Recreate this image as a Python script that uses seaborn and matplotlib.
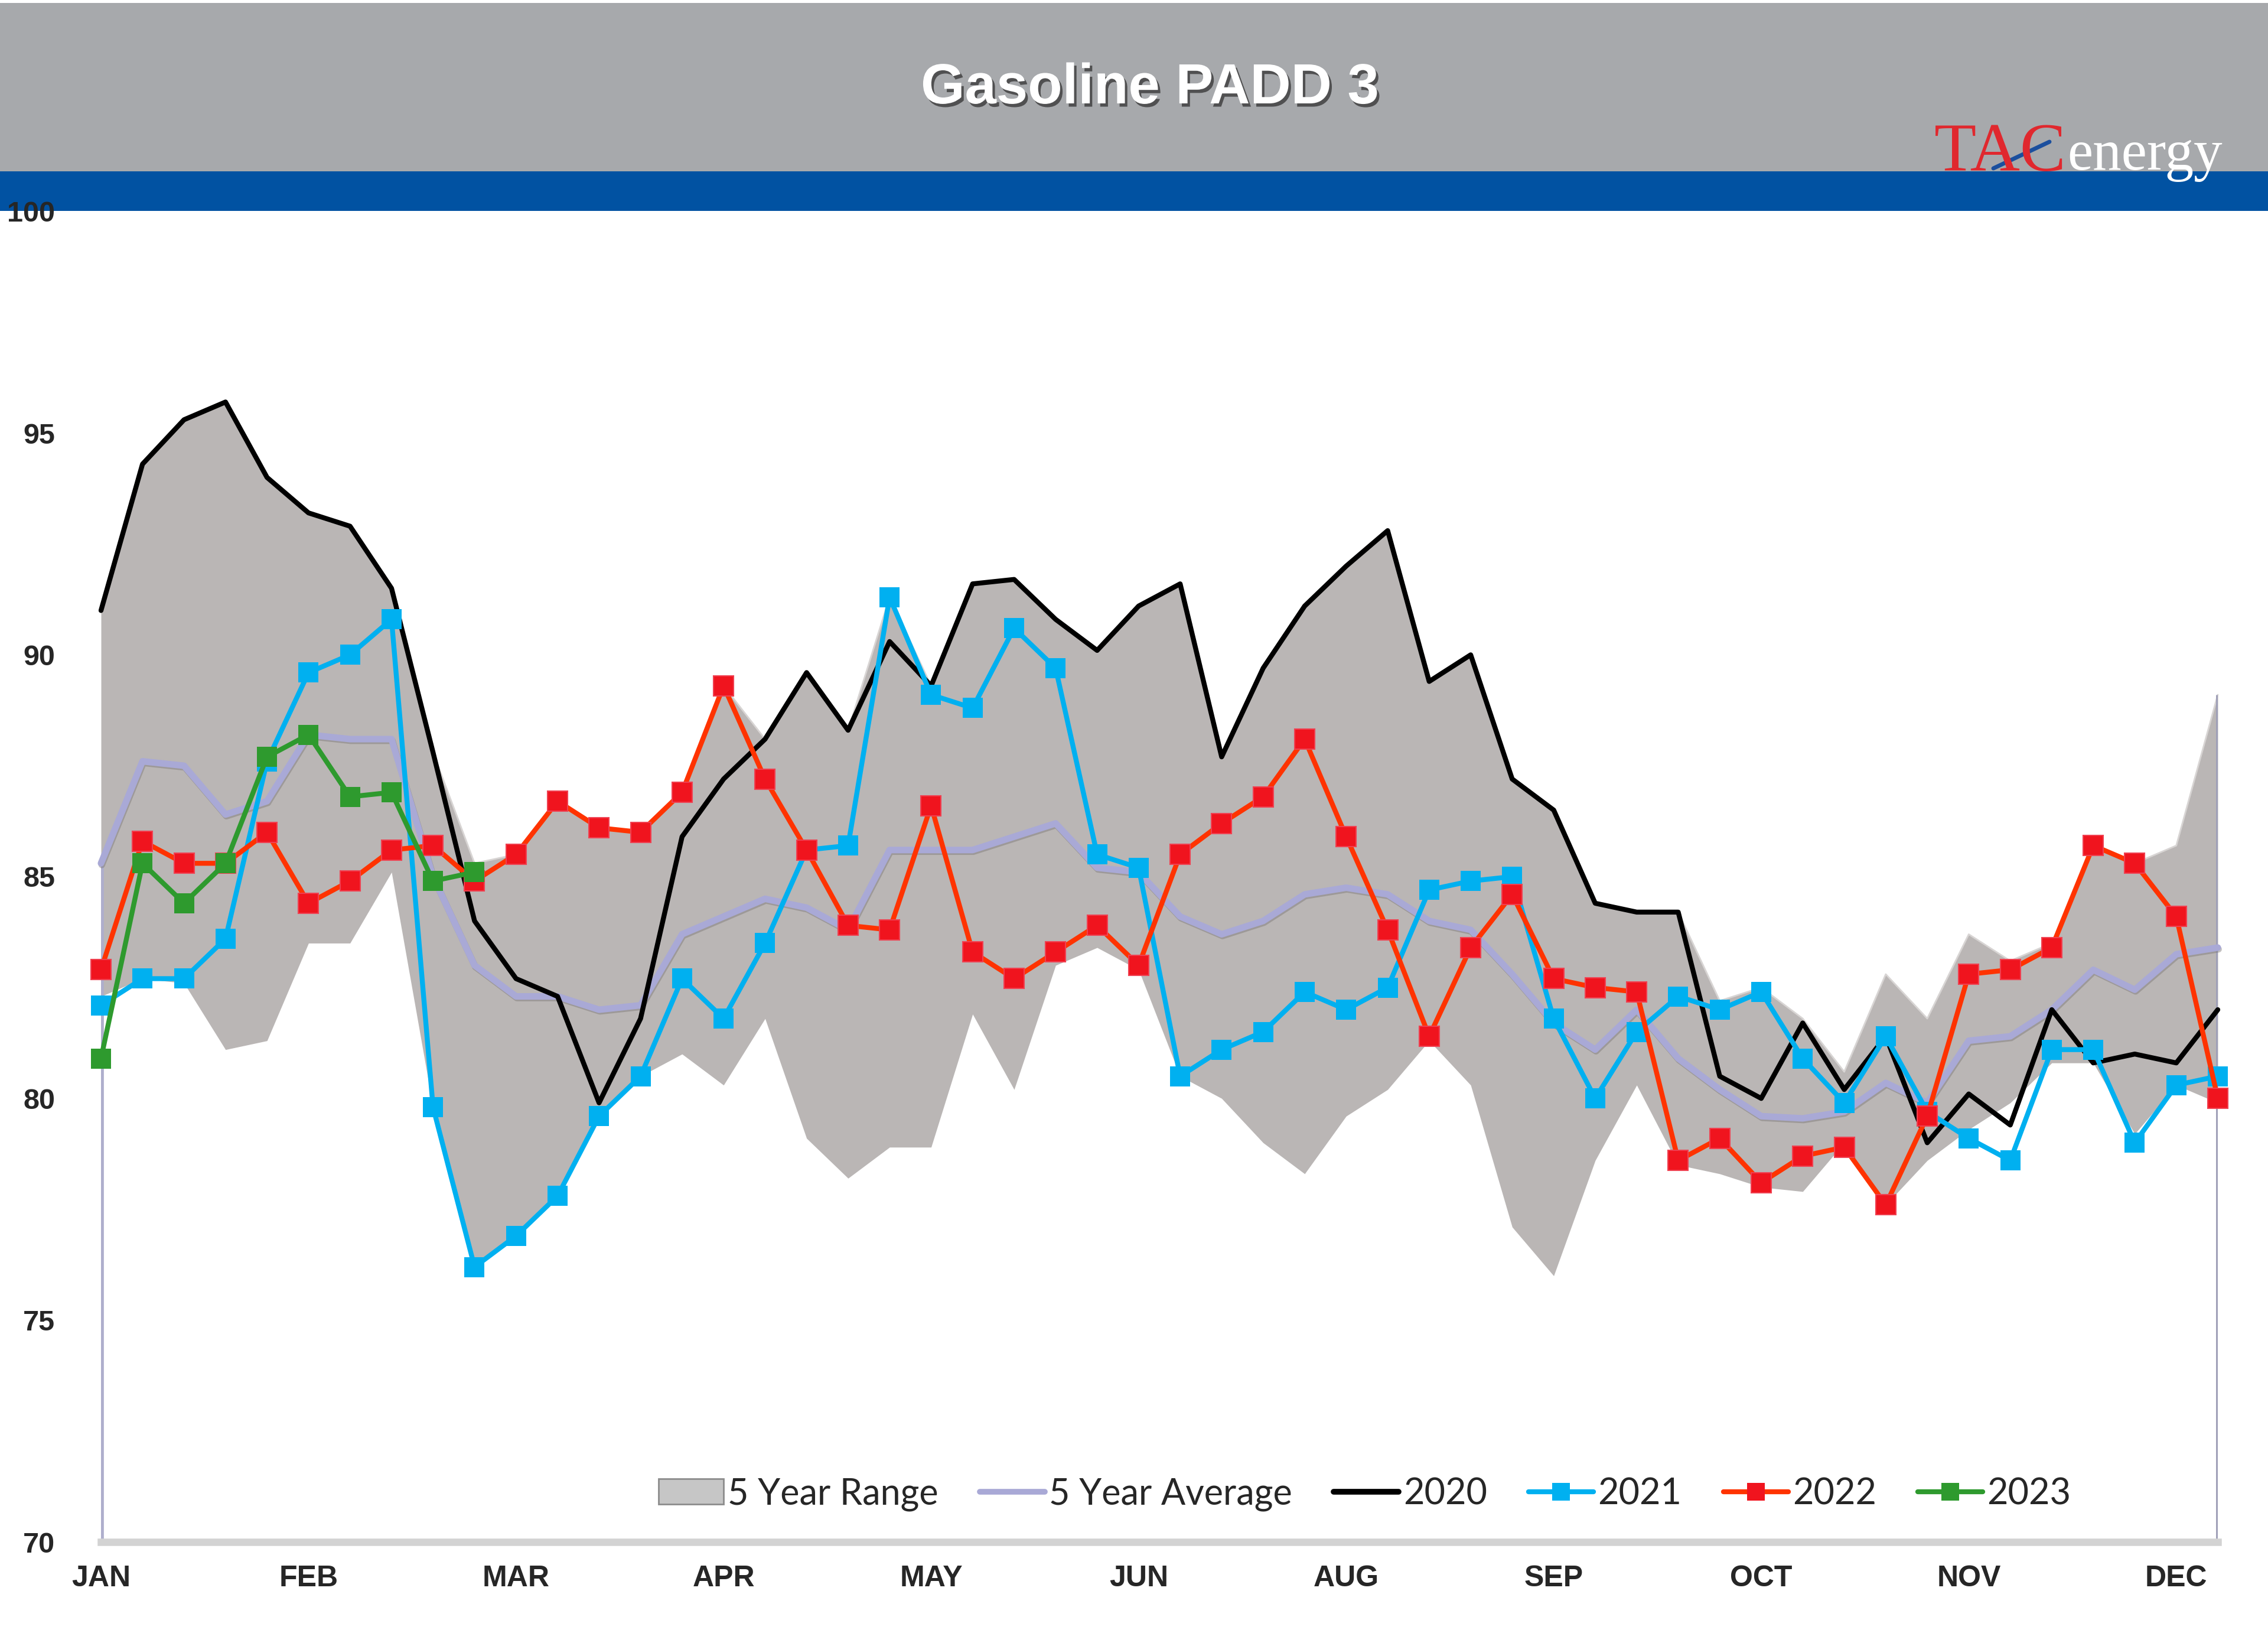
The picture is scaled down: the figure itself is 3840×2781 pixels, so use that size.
import numpy as np
import pandas as pd
import matplotlib
matplotlib.use("Agg")
import matplotlib.pyplot as plt
import seaborn as sns
from matplotlib.patches import Rectangle, Patch
from matplotlib.lines import Line2D
import matplotlib.patheffects as pe

# ---------------- data ----------------
month_labels = ['JAN', 'FEB', 'MAR', 'APR', 'MAY', 'JUN', 'AUG', 'SEP', 'OCT', 'NOV', 'DEC']
month_ticks = [0, 5, 10, 15, 20, 25, 30, 35, 40, 45, 50]
y_ticks = [70, 75, 80, 85, 90, 95, 100]

range_high = [91.0, 94.3, 95.3, 95.7, 94.0, 93.2, 92.9, 91.5, 87.8, 85.3,
              85.5, 86.7, 86.1, 86.0, 86.9, 89.3, 88.1, 89.6, 88.3, 91.3,
              89.3, 91.6, 91.7, 90.8, 90.1, 91.1, 91.6, 87.7, 89.7, 91.1,
              92.0, 92.8, 89.4, 90.0, 87.2, 86.5, 84.4, 84.2, 84.2, 82.2,
              82.5, 81.8, 80.6, 82.8, 81.8, 83.7, 83.1, 83.5, 85.7, 85.3,
              85.7, 89.1]
range_low = [82.3, 82.7, 82.6, 81.1, 81.3, 83.5, 83.5, 85.1, 79.8, 76.2,
             76.9, 77.8, 79.6, 80.5, 81.0, 80.3, 81.8, 79.1, 78.2, 78.9,
             78.9, 81.9, 80.2, 83.0, 83.4, 82.9, 80.5, 80.0, 79.0, 78.3,
             79.6, 80.2, 81.3, 80.3, 77.1, 76.0, 78.6, 80.3, 78.5, 78.3,
             78.0, 77.9, 79.0, 77.6, 78.6, 79.3, 79.9, 80.8, 80.8, 79.2,
             80.3, 79.9]
avg5 = [85.3, 87.6, 87.5, 86.4, 86.7, 88.2, 88.1, 88.1, 85.0, 83.0,
        82.3, 82.3, 82.0, 82.1, 83.7, 84.1, 84.5, 84.3, 83.8, 85.6,
        85.6, 85.6, 85.9, 86.2, 85.2, 85.1, 84.1, 83.7, 84.0, 84.6,
        84.75, 84.6, 84.0, 83.8, 82.8, 81.7, 81.1, 82.0, 80.9, 80.2,
        79.6, 79.55, 79.7, 80.35, 79.9, 81.3, 81.4, 82.0, 82.9, 82.45,
        83.25, 83.4]
y2020 = [91.0, 94.3, 95.3, 95.7, 94.0, 93.2, 92.9, 91.5, 87.8, 84.0,
         82.7, 82.3, 79.9, 81.8, 85.9, 87.2, 88.1, 89.6, 88.3, 90.3,
         89.3, 91.6, 91.7, 90.8, 90.1, 91.1, 91.6, 87.7, 89.7, 91.1,
         92.0, 92.8, 89.4, 90.0, 87.2, 86.5, 84.4, 84.2, 84.2, 80.5,
         80.0, 81.7, 80.2, 81.4, 79.0, 80.1, 79.4, 82.0, 80.8, 81.0,
         80.8, 82.0]
y2021 = [82.1, 82.7, 82.7, 83.6, 87.6, 89.6, 90.0, 90.8, 79.8, 76.2,
         76.9, 77.8, 79.6, 80.5, 82.7, 81.8, 83.5, 85.6, 85.7, 91.3,
         89.1, 88.8, 90.6, 89.7, 85.5, 85.2, 80.5, 81.1, 81.5, 82.4,
         82.0, 82.5, 84.7, 84.9, 85.0, 81.8, 80.0, 81.5, 82.3, 82.0,
         82.4, 80.9, 79.9, 81.4, 79.7, 79.1, 78.6, 81.1, 81.1, 79.0,
         80.3, 80.5]
y2022 = [82.9, 85.8, 85.3, 85.3, 86.0, 84.4, 84.9, 85.6, 85.7, 84.9,
         85.5, 86.7, 86.1, 86.0, 86.9, 89.3, 87.2, 85.6, 83.9, 83.8,
         86.6, 83.3, 82.7, 83.3, 83.9, 83.0, 85.5, 86.2, 86.8, 88.1,
         85.9, 83.8, 81.4, 83.4, 84.6, 82.7, 82.5, 82.4, 78.6, 79.1,
         78.1, 78.7, 78.9, 77.6, 79.6, 82.8, 82.9, 83.4, 85.7, 85.3,
         84.1, 80.0]
y2023 = [80.9, 85.3, 84.4, 85.3, 87.7, 88.2, 86.8, 86.9, 84.9, 85.1]

weeks = np.arange(len(y2020))
df = pd.DataFrame({'week': weeks, 'low': range_low, 'high': range_high,
                   'avg': avg5, '2020': y2020, '2021': y2021, '2022': y2022})
df23 = pd.DataFrame({'week': np.arange(len(y2023)), '2023': y2023})

# ---------------- style ----------------
sns.set_theme(style='white')
plt.rcParams['font.family'] = ['Liberation Sans', 'DejaVu Sans']

W, H = 3840, 2781
fig = plt.figure(figsize=(W / 100, H / 100), dpi=100)
fig.patch.set_facecolor('white')

# header
fig.add_artist(Rectangle((0, 1 - 290 / H), 1, 285 / H, transform=fig.transFigure,
                         facecolor='#A7A9AC', edgecolor='none', zorder=0))
fig.add_artist(Rectangle((0, 1 - 357 / H), 1, 67 / H, transform=fig.transFigure,
                         facecolor='#0152A2', edgecolor='none', zorder=0))
fig.text(0.507, 1 - 150 / H, 'Gasoline PADD 3', ha='center', va='center',
         color='white', fontsize=69, fontweight='bold',
         path_effects=[pe.withSimplePatchShadow(offset=(3, -4), shadow_rgbFace='#3a3a3a', alpha=0.8)])
# logo
fig.text(3275 / W, 1 - 289 / H, 'TAC', ha='left', va='baseline', color='#E0282E',
         fontsize=84, family=['Liberation Serif', 'DejaVu Serif'])
fig.text(3500 / W, 1 - 287 / H, 'energy', ha='left', va='baseline', color='white',
         fontsize=70, family=['Liberation Serif', 'DejaVu Serif'])
fig.add_artist(Line2D([3375 / W, 3470 / W], [1 - 285 / H, 1 - 240 / H], transform=fig.transFigure,
                      color='#1B4F9E', lw=5))

# axes
ax = fig.add_axes([171 / W, 1 - 2610 / H, (3755 - 171) / W, (2610 - 357.6) / H])
ax.set_facecolor('white')

ax.fill_between(df['week'], df['low'], df['high'], color='#BAB6B5', lw=0, zorder=1)
ax.plot(df['week'], df['high'], color='#D8D5D4', lw=2, zorder=1.5)
# edge drops of the 5-year series
ax.vlines([weeks[0]], 70, [avg5[0]], color='#AEAECC', lw=7, zorder=1.6)
ax.vlines([weeks[-1]], 70, [range_high[-1]], color='#A0A0B8', lw=5, zorder=1.6)

sns.lineplot(data=df, x='week', y='avg', color='#A9A9D6', lw=8, ax=ax, zorder=2,
             path_effects=[pe.SimpleLineShadow(offset=(1, -2), shadow_color='#7a7676', alpha=0.45),
                           pe.Normal()])
sns.lineplot(data=df, x='week', y='2020', color='black', lw=6, ax=ax, zorder=3)
sns.lineplot(data=df, x='week', y='2021', color='#00B0F0', lw=6, marker='s',
             markersize=25, markeredgewidth=0, ax=ax, zorder=4)
sns.lineplot(data=df, x='week', y='2022', color='#FF3300', lw=6, marker='s',
             markersize=25, markerfacecolor='#F0141E', markeredgecolor='#F04050',
             markeredgewidth=1.5, ax=ax, zorder=5)
sns.lineplot(data=df23, x='week', y='2023', color='#2E9A2E', lw=6, marker='s',
             markersize=25, markeredgewidth=0, ax=ax, zorder=6)
for ln in ax.lines:
    ln.set_clip_on(False)

ax.set_xlim(0, len(weeks) - 1)
ax.set_ylim(70, 100)
ax.set_xlabel('')
ax.set_ylabel('')
ax.set_xticks(month_ticks)
ax.set_xticklabels(month_labels, fontsize=36, fontweight='bold')
ax.set_yticks(y_ticks)
ax.set_yticklabels([str(v) for v in y_ticks], fontsize=35, fontweight='bold')
ax.tick_params(axis='y', length=0, pad=56)
ax.tick_params(axis='x', length=0, pad=28)
for s in ['top', 'right', 'left']:
    ax.spines[s].set_visible(False)
ax.spines['bottom'].set_color('#D3D3D3')
ax.spines['bottom'].set_linewidth(9)
ax.grid(False)

handles = [
    Patch(facecolor='#C6C6C6', edgecolor='#8C8C8C', lw=2),
    Line2D([], [], color='#A9A9D6', lw=7),
    Line2D([], [], color='black', lw=7),
    Line2D([], [], color='#00B0F0', lw=6, marker='s', markersize=22, markeredgewidth=0),
    Line2D([], [], color='#FF3300', lw=6, marker='s', markersize=22, markerfacecolor='#F0141E', markeredgewidth=0),
    Line2D([], [], color='#2E9A2E', lw=6, marker='s', markersize=22, markeredgewidth=0),
]
labels = ['5 Year Range', '5 Year Average', '2020', '2021', '2022', '2023']
leg = ax.legend(handles, labels, loc='center', bbox_to_anchor=(0.597, 0.036), ncol=6,
                frameon=False, handlelength=1.8, handletextpad=0.12, columnspacing=1.15,
                prop={'family': ['Lato', 'DejaVu Sans'], 'size': 44})
leg.set_zorder(10)

fig.savefig('out.png', dpi=100, facecolor='white')
